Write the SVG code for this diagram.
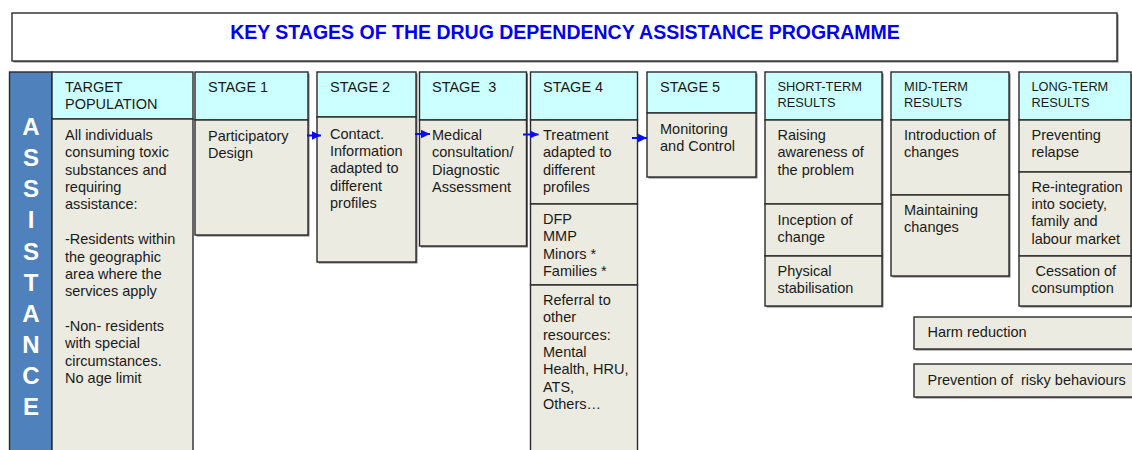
<svg xmlns="http://www.w3.org/2000/svg" width="1132" height="450" viewBox="0 0 1132 450">
<defs>
<style>
.hd{fill:#ccffff;stroke:#2a2a2a;stroke-width:1.4}
.bd{fill:#ecebe1;stroke:#2a2a2a;stroke-width:1.4}
.sh{fill:#7a7a7a}
text{font-family:"Liberation Sans",Arial,sans-serif;fill:#1a1a1a;white-space:pre}
.t{font-size:14.5px}
.s{font-size:12.8px}
.bar{font-size:24px;font-weight:bold;fill:#ffffff;text-anchor:middle}
.title{font-size:19.5px;font-weight:bold;fill:#0000f0;text-anchor:middle}
.arr{stroke:#0a0aff;stroke-width:2;fill:none}
</style>
<marker id="ah" markerUnits="userSpaceOnUse" markerWidth="10" markerHeight="10" refX="9" refY="5" orient="auto">
<path d="M0,0.8 L9,5 L0,9.2 z" fill="#0a0aff"/>
</marker>
</defs>
<rect width="1132" height="450" fill="#ffffff"/>

<g id="title">
<rect x="13.5" y="14.5" width="1105" height="48" class="sh"/>
<rect x="12" y="13" width="1105" height="48" fill="#ffffff" stroke="#2a2a2a" stroke-width="1.4"/>
<text x="565" y="39" class="title">KEY STAGES OF THE DRUG DEPENDENCY ASSISTANCE PROGRAMME</text>
</g>

<g id="assistance">
<rect x="9.5" y="72" width="42.5" height="390" fill="#4f81bd" stroke="#2a2a2a" stroke-width="1.4"/>
<text class="bar"><tspan x="31" y="135">A</tspan><tspan x="31" y="166">S</tspan><tspan x="31" y="197">S</tspan><tspan x="31" y="228">I</tspan><tspan x="31" y="260">S</tspan><tspan x="31" y="291">T</tspan><tspan x="31" y="322">A</tspan><tspan x="31" y="353">N</tspan><tspan x="31" y="384">C</tspan><tspan x="31" y="415">E</tspan></text>
</g>

<g id="target-population">
<rect x="52" y="72" width="141" height="47" class="hd"/>
<rect x="52" y="119" width="141" height="343" class="bd"/>
<text class="t"><tspan x="65" y="91.7">TARGET</tspan><tspan x="65" y="109">POPULATION</tspan></text>
<text class="t"><tspan x="65" y="140">All individuals</tspan><tspan x="65" y="157.4">consuming toxic</tspan><tspan x="65" y="174.7">substances and</tspan><tspan x="65" y="192.1">requiring</tspan><tspan x="65" y="209.4">assistance:</tspan><tspan x="65" y="244.1">-Residents within</tspan><tspan x="65" y="261.5">the geographic</tspan><tspan x="65" y="278.8">area where the</tspan><tspan x="65" y="296.2">services apply</tspan><tspan x="65" y="330.9">-Non- residents</tspan><tspan x="65" y="348.2">with special</tspan><tspan x="65" y="365.6">circumstances.</tspan><tspan x="65" y="382.9">No age limit</tspan></text>
</g>

<g id="stage1">
<rect x="196.5" y="73.5" width="113" height="163" class="sh"/>
<rect x="195" y="72" width="113" height="48" class="hd"/>
<rect x="195" y="120" width="113" height="115" class="bd"/>
<text class="t" x="208" y="92">STAGE 1</text>
<text class="t"><tspan x="208" y="141">Participatory</tspan><tspan x="208" y="158.4">Design</tspan></text>
</g>

<g id="stage2">
<rect x="318.5" y="73.5" width="99" height="190" class="sh"/>
<rect x="317" y="72" width="99" height="45" class="hd"/>
<rect x="317" y="117" width="99" height="145" class="bd"/>
<text class="t" x="330" y="91.7">STAGE 2</text>
<text class="t"><tspan x="330" y="138.5">Contact.</tspan><tspan x="330" y="155.9">Information</tspan><tspan x="330" y="173.2">adapted to</tspan><tspan x="330" y="190.6">different</tspan><tspan x="330" y="207.9">profiles</tspan></text>
</g>

<g id="stage3">
<rect x="421" y="73.5" width="107" height="174" class="sh"/>
<rect x="419.5" y="72" width="107" height="48" class="hd"/>
<rect x="419.5" y="120" width="107" height="126" class="bd"/>
<text class="t" x="432" y="92">STAGE  3</text>
<text class="t"><tspan x="432" y="140">Medical</tspan><tspan x="432" y="157.4">consultation/</tspan><tspan x="432" y="174.7">Diagnostic</tspan><tspan x="432" y="192.1">Assessment</tspan></text>
</g>

<g id="stage4">
<rect x="530.5" y="72" width="107" height="48" class="hd"/>
<rect x="530.5" y="120" width="107" height="84" class="bd"/>
<rect x="530.5" y="204" width="107" height="81" class="bd"/>
<rect x="530.5" y="285" width="107" height="177" class="bd"/>
<text class="t" x="543" y="92">STAGE 4</text>
<text class="t"><tspan x="543" y="140">Treatment</tspan><tspan x="543" y="157.4">adapted to</tspan><tspan x="543" y="174.7">different</tspan><tspan x="543" y="192.1">profiles</tspan></text>
<text class="t"><tspan x="543" y="224">DFP</tspan><tspan x="543" y="241.3">MMP</tspan><tspan x="543" y="258.6">Minors *</tspan><tspan x="543" y="276">Families *</tspan></text>
<text class="t"><tspan x="543" y="305">Referral to</tspan><tspan x="543" y="322.4">other</tspan><tspan x="543" y="339.7">resources:</tspan><tspan x="543" y="357.1">Mental</tspan><tspan x="543" y="374.4">Health, HRU,</tspan><tspan x="543" y="391.8">ATS,</tspan><tspan x="543" y="409.1">Others…</tspan></text>
</g>

<g id="stage5">
<rect x="648.5" y="73.5" width="109" height="105" class="sh"/>
<rect x="647" y="72" width="109" height="41" class="hd"/>
<rect x="647" y="113" width="109" height="64" class="bd"/>
<text class="t" x="660" y="91.7">STAGE 5</text>
<text class="t"><tspan x="660" y="134">Monitoring</tspan><tspan x="660" y="151.4">and Control</tspan></text>
</g>

<g id="short-term-results">
<rect x="766.5" y="73.5" width="117" height="234" class="sh"/>
<rect x="765" y="72" width="117" height="48" class="hd"/>
<rect x="765" y="120" width="117" height="84" class="bd"/>
<rect x="765" y="204" width="117" height="52" class="bd"/>
<rect x="765" y="256" width="117" height="50" class="bd"/>
<text class="s"><tspan x="777.5" y="90.7">SHORT-TERM</tspan><tspan x="777.5" y="106.7">RESULTS</tspan></text>
<text class="t"><tspan x="777.5" y="140">Raising</tspan><tspan x="777.5" y="157.4">awareness of</tspan><tspan x="777.5" y="174.7">the problem</tspan></text>
<text class="t"><tspan x="777.5" y="225">Inception of</tspan><tspan x="777.5" y="242.2">change</tspan></text>
<text class="t"><tspan x="777.5" y="276">Physical</tspan><tspan x="777.5" y="293.2">stabilisation</tspan></text>
</g>

<g id="mid-term-results">
<rect x="892.5" y="73.5" width="118" height="204" class="sh"/>
<rect x="891" y="72" width="118" height="48" class="hd"/>
<rect x="891" y="120" width="118" height="75" class="bd"/>
<rect x="891" y="195" width="118" height="81" class="bd"/>
<text class="s"><tspan x="904" y="90.7">MID-TERM</tspan><tspan x="904" y="106.7">RESULTS</tspan></text>
<text class="t"><tspan x="904" y="140">Introduction of</tspan><tspan x="904" y="157.2">changes</tspan></text>
<text class="t"><tspan x="904" y="215">Maintaining</tspan><tspan x="904" y="232.4">changes</tspan></text>
</g>

<g id="long-term-results">
<rect x="1020.5" y="73.5" width="112" height="234" class="sh"/>
<rect x="1019" y="72" width="112" height="48" class="hd"/>
<rect x="1019" y="120" width="112" height="52" class="bd"/>
<rect x="1019" y="172" width="112" height="84" class="bd"/>
<rect x="1019" y="256" width="112" height="50" class="bd"/>
<text class="s"><tspan x="1031.5" y="90.7">LONG-TERM</tspan><tspan x="1031.5" y="106.7">RESULTS</tspan></text>
<text class="t"><tspan x="1031.5" y="140">Preventing</tspan><tspan x="1031.5" y="157.2">relapse</tspan></text>
<text class="t"><tspan x="1031.5" y="191.7">Re-integration</tspan><tspan x="1031.5" y="209">into society,</tspan><tspan x="1031.5" y="226.4">family and</tspan><tspan x="1031.5" y="243.8">labour market</tspan></text>
<text class="t"><tspan x="1035.5" y="276">Cessation of</tspan><tspan x="1031.5" y="293">consumption</tspan></text>
</g>

<g id="harm-reduction">
<rect x="915.5" y="318.5" width="226" height="32" class="sh"/>
<rect x="914" y="317" width="226" height="32" class="bd"/>
<text class="t" x="927.5" y="337">Harm reduction</text>
</g>

<g id="prevention">
<rect x="915.5" y="365.5" width="226" height="33" class="sh"/>
<rect x="914" y="364" width="226" height="33" class="bd"/>
<text class="t" x="927.5" y="384.5">Prevention of  risky behaviours</text>
</g>

<g id="connectors">
<line x1="307" y1="135.5" x2="321" y2="135.5" class="arr" marker-end="url(#ah)"/>
<line x1="415" y1="134" x2="430" y2="134" class="arr" marker-end="url(#ah)"/>
<line x1="523" y1="134.5" x2="538.5" y2="134.5" class="arr" marker-end="url(#ah)"/>
<line x1="632" y1="138" x2="647" y2="138" class="arr" marker-end="url(#ah)"/>
</g>
</svg>
